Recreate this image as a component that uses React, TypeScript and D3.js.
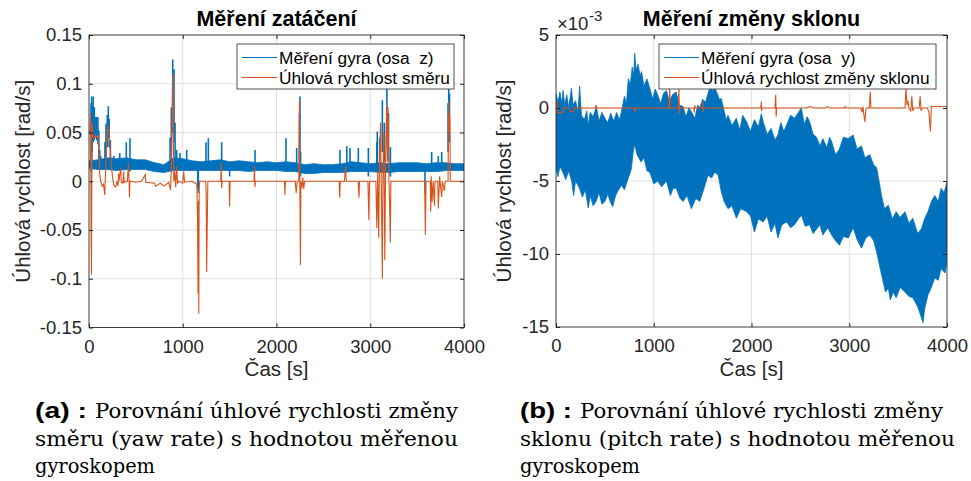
import React, { useEffect, useRef } from "react";
import * as d3 from "d3";

const W = 971;
const H = 481;
const BLUE = "#0072BD";
const ORANGE = "#D95319";
const INK = "#262626";
const FONT = '"Liberation Sans", Arial, Helvetica, sans-serif';
const SERIF = '"DejaVu Serif", "Liberation Serif", serif';

// shared x axis (time in s)
const timeDomain = [0, 4000];
const timeTicks = [0, 1000, 2000, 3000, 4000];

// ---- panel (a): yaw rate, rad/s ----
const yawTicks = [-0.15, -0.1, -0.05, 0, 0.05, 0.1, 0.15];
const yawTickLabels = ["-0.15", "-0.1", "-0.05", "0", "0.05", "0.1", "0.15"];

// gyro z: noise band (time, low, high)
const yawBandT = [0, 100, 200, 300, 400, 500, 600, 700, 800, 900, 1000, 1100, 1200, 1300, 1400, 1500, 1600, 1700, 1800, 1900, 2000, 2100, 2200, 2300, 2400, 2500, 2600, 2700, 2800, 2900, 3000, 3100, 3200, 3300, 3400, 3500, 3600, 3700, 3800, 3900, 4000];
const yawBandLo = [0.013, 0.012, 0.012, 0.011, 0.012, 0.012, 0.012, 0.010, 0.009, 0.011, 0.011, 0.011, 0.011, 0.011, 0.011, 0.011, 0.011, 0.010, 0.011, 0.011, 0.011, 0.010, 0.010, 0.008, 0.008, 0.009, 0.009, 0.009, 0.010, 0.010, 0.010, 0.009, 0.009, 0.010, 0.010, 0.010, 0.010, 0.010, 0.011, 0.011, 0.011];
const yawBandHi = [0.021, 0.022, 0.024, 0.023, 0.024, 0.022, 0.022, 0.019, 0.017, 0.024, 0.023, 0.021, 0.020, 0.021, 0.022, 0.020, 0.021, 0.020, 0.019, 0.020, 0.019, 0.020, 0.019, 0.017, 0.018, 0.017, 0.017, 0.018, 0.020, 0.019, 0.018, 0.019, 0.018, 0.019, 0.019, 0.019, 0.018, 0.019, 0.019, 0.018, 0.018];

// gyro z: short excursions (time, low, high)
const yawGyroSpikes: [number, number, number][] = [
  [22, 0.010, 0.080], [28, 0.012, 0.087], [35, 0.030, 0.078], [45, 0.040, 0.087],
  [57, 0.042, 0.076], [68, 0.045, 0.066], [82, 0.042, 0.066], [95, 0.038, 0.066],
  [105, 0.022, 0.052], [115, 0.014, 0.032], [125, 0.012, 0.026], [170, 0.015, 0.040],
  [181, 0.025, 0.059], [195, 0.035, 0.068], [206, 0.045, 0.077], [215, 0.035, 0.064],
  [228, 0.020, 0.042], [264, 0.012, 0.026], [328, 0.012, 0.029], [398, 0.012, 0.040],
  [437, 0.010, 0.044], [865, 0.015, 0.045], [878, 0.030, 0.076], [893, 0.050, 0.125],
  [907, 0.040, 0.115], [918, 0.020, 0.060], [935, 0.014, 0.032], [971, 0.012, 0.029],
  [1042, 0.012, 0.032], [1160, -0.007, 0.016], [1166, -0.012, 0.019], [1248, 0.012, 0.040],
  [1273, 0.012, 0.044], [1415, 0.012, 0.040], [1500, 0.005, 0.018], [1771, 0.012, 0.032],
  [2101, 0.012, 0.044], [2215, 0.010, 0.034], [2245, 0.020, 0.070], [2250, 0.030, 0.087],
  [2257, 0.005, 0.030], [2677, 0.010, 0.032], [2750, 0.012, 0.036], [2784, 0.012, 0.034],
  [2873, 0.010, 0.034], [2980, 0.005, 0.034], [3070, 0.010, 0.040], [3075, 0.015, 0.051],
  [3100, 0.010, 0.045], [3129, 0.030, 0.083], [3150, 0.020, 0.060], [3178, 0.040, 0.096],
  [3195, 0.020, 0.070], [3215, 0.005, 0.035], [3584, -0.012, 0.015], [3655, 0.010, 0.030],
  [3726, 0.010, 0.026], [3762, 0.010, 0.030], [3830, 0.030, 0.080], [3837, 0.050, 0.098],
  [3845, 0.040, 0.090],
];

// estimated yaw rate (time, value)
const yawRate: [number, number][] = [
  [0, 0.052], [10, 0.048], [18, 0.07], [22, -0.05], [26, -0.096], [30, 0.0], [34, 0.06],
  [40, 0.045], [50, 0.047], [60, 0.045], [75, 0.047], [90, 0.045], [100, 0.047], [108, 0.03],
  [115, 0.006], [125, 0.0], [140, -0.005], [155, -0.003], [168, -0.014], [175, 0.005],
  [185, 0.035], [195, 0.05], [205, 0.058], [212, 0.048], [222, 0.04], [235, 0.02], [250, 0.005],
  [265, -0.004], [284, -0.006], [300, 0.0], [310, -0.005], [315, 0.008], [320, 0.0],
  [338, 0.014], [345, -0.001], [362, -0.002], [370, 0.01], [375, -0.001], [410, 0.0],
  [420, 0.019], [428, -0.002], [432, -0.017], [436, 0.0], [500, -0.001], [560, 0.0],
  [600, 0.007], [605, -0.001], [700, -0.002], [712, -0.005], [760, -0.002], [800, -0.005],
  [850, -0.001], [870, -0.009], [880, 0.02], [888, 0.08], [893, 0.11], [898, 0.06], [905, 0.0],
  [915, 0.01], [925, -0.006], [935, 0.015], [945, -0.002], [960, 0.0], [1000, -0.002],
  [1010, 0.01], [1020, -0.001], [1100, 0.0], [1150, -0.003], [1158, -0.04], [1163, -0.115],
  [1167, -0.02], [1171, -0.136], [1175, -0.01], [1180, 0.0], [1245, 0.0], [1250, -0.01],
  [1255, -0.093], [1262, -0.04], [1268, 0.0], [1405, 0.0], [1410, 0.019], [1415, -0.007],
  [1420, 0.0], [1495, 0.0], [1500, -0.026], [1505, 0.0], [1760, 0.0], [1765, 0.016],
  [1770, -0.006], [1775, 0.0], [2085, 0.0], [2090, -0.014], [2095, 0.0], [2200, 0.0],
  [2210, -0.012], [2220, 0.0], [2238, 0.0], [2245, 0.083], [2250, -0.02], [2255, -0.086],
  [2260, 0.0], [2270, -0.007], [2280, 0.004], [2290, -0.008], [2300, 0.0], [2668, 0.0],
  [2674, -0.017], [2680, 0.0], [2725, 0.0], [2735, 0.015], [2745, 0.0], [2870, 0.0],
  [2880, -0.017], [2885, 0.0], [2975, 0.0], [2985, -0.04], [2992, 0.0], [3060, 0.0],
  [3070, -0.048], [3080, 0.01], [3090, -0.058], [3100, 0.03], [3110, 0.06], [3120, -0.02],
  [3129, -0.1], [3135, 0.0], [3145, 0.05], [3155, -0.081], [3165, 0.03], [3175, 0.078],
  [3182, 0.02], [3190, 0.076], [3200, 0.0], [3208, -0.03], [3214, -0.063], [3220, 0.0],
  [3580, 0.0], [3588, -0.055], [3595, 0.0], [3640, 0.0], [3645, -0.031], [3650, 0.005],
  [3660, -0.021], [3670, 0.0], [3685, -0.025], [3690, 0.0], [3720, 0.0], [3726, -0.028],
  [3740, 0.005], [3762, -0.016], [3770, 0.0], [3790, -0.01], [3800, 0.0], [3830, 0.0],
  [3835, 0.082], [3840, 0.05], [3845, 0.07], [3850, 0.06], [3854, 0.0], [4000, 0.0],
];

// ---- panel (b): pitch rate, 1e-3 rad/s ----
const pitchTicks = [-15, -10, -5, 0, 5];
const pitchTickLabels = ["-15", "-10", "-5", "0", "5"];

// gyro y: upper envelope of the noise (time, value)
const pitchUpper: [number, number][] = [
  [0, 1.0], [20, 0.4], [40, 1.1], [60, 0.3], [72, 1.2], [90, 0.2], [110, 0.9], [130, 0.0],
  [157, 1.35], [175, 0.2], [200, 0.5], [225, -0.3], [242, 1.5], [260, -0.5], [290, -0.8],
  [315, -0.2], [330, -1.2], [350, -0.3], [380, -0.6], [413, 0.1], [440, -0.9], [470, -0.3],
  [500, -0.7], [530, -1.0], [560, -0.35], [590, -0.9], [620, -0.3], [650, -0.8], [670, -0.25],
  [700, 0.8], [720, 0.3], [740, 2.0], [760, 1.6], [780, 2.8], [795, 2.2], [805, 3.75],
  [820, 2.6], [840, 3.0], [860, 2.2], [875, 2.5], [900, 1.5], [930, 2.0], [960, 1.35],
  [990, 0.6], [1015, 1.3], [1040, 0.9], [1070, 0.3], [1100, 1.0], [1130, 1.2], [1160, 0.4],
  [1190, 0.9], [1230, 1.1], [1260, 0.2], [1300, 0.1], [1330, -0.6], [1360, 0.0], [1385, -0.25],
  [1420, -0.7], [1450, 0.2], [1470, 0.0], [1500, 0.6], [1530, 0.4], [1555, 1.0], [1580, 1.5],
  [1600, 1.2], [1625, 1.35], [1650, 1.0], [1670, 0.6], [1690, 0.65], [1720, -0.2], [1740, -0.8],
  [1760, -0.5], [1800, -1.2], [1845, -0.7], [1880, -1.5], [1910, -0.5], [1950, -0.95],
  [1990, -1.6], [2030, -0.8], [2070, -1.3], [2100, -0.4], [2120, -0.95], [2160, -1.8],
  [2200, -1.4], [2240, -2.2], [2270, -1.85], [2300, -1.0], [2330, -1.6], [2360, -1.15],
  [2400, -0.5], [2440, -0.7], [2480, -0.3], [2510, 0.0], [2540, -1.1], [2570, -0.6],
  [2595, -0.95], [2630, -1.8], [2665, -2.0], [2700, -2.6], [2730, -2.1], [2770, -2.7],
  [2800, -2.0], [2820, -2.3], [2860, -3.2], [2900, -2.8], [2940, -2.0], [2990, -2.1],
  [3040, -1.85], [3080, -2.8], [3125, -2.6], [3160, -3.4], [3210, -3.2], [3250, -3.9],
  [3280, -4.1], [3310, -5.2], [3330, -6.0], [3360, -6.9], [3400, -6.65], [3440, -7.6],
  [3480, -7.1], [3520, -7.5], [3570, -7.1], [3610, -7.9], [3650, -7.55], [3700, -8.6],
  [3740, -8.25], [3770, -7.6], [3805, -7.1], [3840, -6.4], [3875, -6.0], [3910, -6.4],
  [3940, -5.5], [3970, -5.8], [4000, -5.05],
];

// gyro y: lower envelope of the noise (time, value)
const pitchLower: [number, number][] = [
  [0, -4.1], [20, -4.7], [40, -4.0], [70, -4.4], [100, -4.9], [130, -4.3], [160, -5.0],
  [180, -6.0], [200, -5.0], [240, -5.5], [270, -6.1], [300, -5.6], [330, -6.85], [350, -6.0],
  [380, -6.7], [410, -6.4], [440, -5.8], [470, -6.6], [500, -6.4], [530, -5.9], [560, -6.5],
  [580, -6.75], [610, -6.0], [640, -5.6], [670, -5.3], [700, -5.6], [740, -4.8], [770, -4.2],
  [790, -3.0], [805, -2.5], [830, -3.2], [870, -3.7], [900, -3.4], [930, -4.3], [960, -4.4],
  [1000, -5.2], [1040, -5.0], [1080, -5.4], [1130, -5.0], [1170, -6.0], [1200, -5.5],
  [1230, -5.5], [1270, -6.2], [1300, -6.4], [1340, -6.0], [1385, -6.9], [1430, -6.2],
  [1470, -6.4], [1510, -5.6], [1555, -4.6], [1590, -4.8], [1625, -4.4], [1660, -4.6],
  [1690, -5.7], [1720, -6.4], [1760, -6.9], [1800, -6.7], [1845, -7.55], [1890, -6.9],
  [1950, -7.1], [1990, -7.4], [2030, -8.5], [2070, -7.6], [2120, -7.8], [2160, -7.4],
  [2200, -8.5], [2240, -7.9], [2270, -8.9], [2310, -8.0], [2360, -7.8], [2400, -8.2],
  [2440, -8.0], [2480, -7.6], [2510, -7.35], [2550, -8.1], [2595, -8.0], [2630, -8.6],
  [2665, -8.3], [2700, -8.0], [2730, -8.7], [2780, -8.2], [2820, -8.7], [2860, -9.1],
  [2900, -9.4], [2940, -8.8], [2990, -8.9], [3040, -8.2], [3080, -9.0], [3125, -9.6],
  [3170, -8.9], [3210, -8.7], [3250, -9.1], [3280, -9.85], [3310, -10.8], [3330, -11.4],
  [3370, -12.6], [3400, -12.35], [3420, -13.15], [3450, -12.6], [3480, -13.0], [3520, -12.3],
  [3570, -12.6], [3610, -12.9], [3650, -13.0], [3700, -13.6], [3740, -14.4], [3755, -14.7],
  [3770, -13.8], [3805, -12.8], [3840, -12.3], [3875, -11.65], [3910, -11.8], [3940, -11.0],
  [3980, -11.3], [4000, -10.5],
];

const pitchRate: [number, number][] = [
  [0, 0.0], [10, 0.5], [15, -0.3], [25, -0.3], [70, -0.3], [80, 0.0], [130, 0.0],
  [140, -0.15], [170, -0.3], [185, 0.0], [400, 0.0], [410, 0.2], [415, 0.0], [800, 0.0],
  [810, -0.2], [820, 0.0], [1155, 0.0], [1163, 1.35], [1168, 0.0], [1250, 0.0], [1258, 1.35],
  [1262, -0.4], [1268, 0.0], [1410, 0.0], [1415, -0.3], [1420, 0.2], [1425, 0.0], [1500, 0.0],
  [1504, 0.45], [1508, -0.25], [1512, 0.0], [2095, 0.0], [2100, 0.45], [2104, -0.2],
  [2108, 0.0], [2240, 0.0], [2248, 0.9], [2252, -0.6], [2258, 0.0], [2560, 0.0], [2600, 0.1],
  [2640, 0.0], [2750, 0.0], [2780, 0.1], [2800, 0.0], [2950, 0.0], [2960, 0.1], [2970, 0.0],
  [3120, 0.0], [3130, -0.3], [3140, 0.1], [3150, -0.5], [3160, -0.95], [3170, -0.1],
  [3180, 0.0], [3205, 0.0], [3215, 1.1], [3222, 0.0], [3570, 0.0], [3580, 1.35], [3590, 0.2],
  [3600, 0.5], [3610, 0.0], [3630, -0.2], [3640, 0.8], [3650, -0.2], [3660, 0.0], [3715, 0.0],
  [3725, 0.8], [3735, -0.2], [3745, 0.0], [3800, 0.0], [3815, -0.3], [3830, -1.6],
  [3840, 0.1], [4000, 0.1],
];

type Panel = {
  id: string;
  left: number;
  right: number;
  top: number;
  bottom: number;
  yDomain: number[];
  yTicks: number[];
  yTickLabels: string[];
  title: string;
  yLabelX: number;
  upper: [number, number][];
  lower: [number, number][];
  spikes: [number, number, number][];
  rate: [number, number][];
  legend: { x: number; y: number; w: number; h: number; labels: string[] };
};

function drawPanel(svg: any, p: Panel) {
  const x = d3.scaleLinear().domain(timeDomain).range([p.left, p.right]);
  const y = d3.scaleLinear().domain(p.yDomain).range([p.bottom, p.top]);
  const g = svg.append("g");

  // grid
  g.append("g")
    .selectAll("line")
    .data(timeTicks.slice(1, -1))
    .join("line")
    .attr("x1", (d: number) => x(d))
    .attr("x2", (d: number) => x(d))
    .attr("y1", p.top)
    .attr("y2", p.bottom)
    .attr("stroke", "#dfdfdf");
  g.append("g")
    .selectAll("line")
    .data(p.yTicks.slice(1, -1))
    .join("line")
    .attr("x1", p.left)
    .attr("x2", p.right)
    .attr("y1", (d: number) => y(d))
    .attr("y2", (d: number) => y(d))
    .attr("stroke", "#dfdfdf");

  svg
    .append("defs")
    .append("clipPath")
    .attr("id", "clip-" + p.id)
    .append("rect")
    .attr("x", p.left)
    .attr("y", p.top)
    .attr("width", p.right - p.left)
    .attr("height", p.bottom - p.top);

  const plot = g.append("g").attr("clip-path", `url(#clip-${p.id})`);

  // gyro noise band: upper envelope forward, lower envelope back
  const outline = d3
    .line<[number, number]>()
    .x((d) => x(d[0]))
    .y((d) => y(d[1]))
    .curve(d3.curveLinearClosed);
  plot
    .append("path")
    .datum([...p.upper, ...p.lower.slice().reverse()])
    .attr("d", outline)
    .attr("fill", BLUE)
    .attr("stroke", BLUE)
    .attr("stroke-width", 0.8)
    .attr("stroke-linejoin", "miter");

  plot
    .append("g")
    .selectAll("line")
    .data(p.spikes)
    .join("line")
    .attr("x1", (d: number[]) => x(d[0]))
    .attr("x2", (d: number[]) => x(d[0]))
    .attr("y1", (d: number[]) => y(d[1]))
    .attr("y2", (d: number[]) => y(d[2]))
    .attr("stroke", BLUE)
    .attr("stroke-width", 1.6);

  const line = d3
    .line<[number, number]>()
    .x((d) => x(d[0]))
    .y((d) => y(d[1]));
  plot
    .append("path")
    .datum(p.rate)
    .attr("d", line)
    .attr("fill", "none")
    .attr("stroke", ORANGE)
    .attr("stroke-width", 1.1);

  // axes, ticks pointing inward
  const fmtY = (d: number) => p.yTickLabels[p.yTicks.indexOf(d)];
  const styleAxis = (a: any) => {
    a.select(".domain").remove();
    a.attr("font-family", FONT).attr("font-size", 18.5).style("color", INK);
  };
  g.append("g")
    .attr("transform", `translate(0,${p.bottom})`)
    .call(d3.axisBottom(x).tickValues(timeTicks).tickFormat(d3.format("d")).tickSize(-4).tickSizeOuter(0).tickPadding(12))
    .call(styleAxis);
  g.append("g")
    .attr("transform", `translate(${p.left},0)`)
    .call(d3.axisLeft(y).tickValues(p.yTicks).tickFormat(fmtY as any).tickSize(-4).tickSizeOuter(0).tickPadding(7))
    .call(styleAxis);
  g.append("g")
    .attr("transform", `translate(0,${p.top})`)
    .call(d3.axisTop(x).tickValues(timeTicks).tickFormat(() => "").tickSize(-4).tickSizeOuter(0))
    .call(styleAxis);
  g.append("g")
    .attr("transform", `translate(${p.right},0)`)
    .call(d3.axisRight(y).tickValues(p.yTicks).tickFormat(() => "").tickSize(-4).tickSizeOuter(0))
    .call(styleAxis);

  g.append("rect")
    .attr("x", p.left)
    .attr("y", p.top)
    .attr("width", p.right - p.left)
    .attr("height", p.bottom - p.top)
    .attr("fill", "none")
    .attr("stroke", INK)
    .attr("stroke-width", 0.9);

  const cx = (p.left + p.right) / 2;
  g.append("text")
    .attr("x", cx)
    .attr("y", 26)
    .attr("text-anchor", "middle")
    .attr("font-family", FONT)
    .attr("font-weight", "bold")
    .attr("font-size", 21.5)
    .attr("fill", "#000")
    .text(p.title);

  g.append("text")
    .attr("x", cx)
    .attr("y", 376)
    .attr("text-anchor", "middle")
    .attr("font-family", FONT)
    .attr("font-size", 20.5)
    .attr("fill", INK)
    .text("Čas [s]");

  const cy = (p.top + p.bottom) / 2;
  g.append("text")
    .attr("transform", `translate(${p.yLabelX},${cy}) rotate(-90)`)
    .attr("text-anchor", "middle")
    .attr("font-family", FONT)
    .attr("font-size", 20.5)
    .attr("fill", INK)
    .text("Úhlová rychlost [rad/s]");

  // legend
  const L = p.legend;
  const lg = g.append("g");
  lg.append("rect")
    .attr("x", L.x)
    .attr("y", L.y)
    .attr("width", L.w)
    .attr("height", L.h)
    .attr("fill", "#fff")
    .attr("stroke", INK)
    .attr("stroke-width", 0.8);
  [BLUE, ORANGE].forEach((c, i) => {
    const ry = L.y + 13.5 + i * 20;
    lg.append("line")
      .attr("x1", L.x + 5)
      .attr("x2", L.x + 40)
      .attr("y1", ry)
      .attr("y2", ry)
      .attr("stroke", c)
      .attr("stroke-width", 1.2);
    lg.append("text")
      .attr("x", L.x + 42)
      .attr("y", ry + 6)
      .attr("font-family", FONT)
      .attr("font-size", 17.3)
      .attr("fill", "#000")
      .style("white-space", "pre")
      .text(L.labels[i]);
  });
}

function drawCaption(svg: any, x0: number, tag: string, lines: string[], widths: number[]) {
  const g = svg.append("g");
  const base = [418, 446, 473];
  g.append("text")
    .attr("x", x0)
    .attr("y", base[0])
    .attr("font-family", FONT)
    .attr("font-weight", "bold")
    .attr("font-size", 22)
    .attr("fill", "#000")
    .attr("textLength", 52)
    .attr("lengthAdjust", "spacingAndGlyphs")
    .text(tag);
  lines.forEach((s, i) => {
    const lx = i === 0 ? x0 + 60 : x0;
    g.append("text")
      .attr("x", lx)
      .attr("y", base[i])
      .attr("font-family", SERIF)
      .attr("font-size", 19.5)
      .attr("fill", "#000")
      .attr("textLength", widths[i])
      .attr("lengthAdjust", "spacingAndGlyphs")
      .text(s);
  });
}

export default function App() {
  const ref = useRef<SVGSVGElement>(null);

  useEffect(() => {
    const svg = d3.select(ref.current);
    svg.selectAll("*").remove();
    svg.append("rect").attr("width", W).attr("height", H).attr("fill", "#fff");

    drawPanel(svg, {
      id: "yaw",
      left: 89,
      right: 464,
      top: 35,
      bottom: 327.5,
      yDomain: [-0.15, 0.15],
      yTicks: yawTicks,
      yTickLabels: yawTickLabels,
      title: "Měření zatáčení",
      yLabelX: 30,
      upper: yawBandT.map((t, i) => [t, yawBandHi[i]] as [number, number]),
      lower: yawBandT.map((t, i) => [t, yawBandLo[i]] as [number, number]),
      spikes: yawGyroSpikes,
      rate: yawRate,
      legend: { x: 237, y: 44, w: 217, h: 45, labels: ["Měření gyra (osa  z)", "Úhlová rychlost směru"] },
    });

    drawPanel(svg, {
      id: "pitch",
      left: 556,
      right: 947,
      top: 35,
      bottom: 327,
      yDomain: [-15, 5],
      yTicks: pitchTicks,
      yTickLabels: pitchTickLabels,
      title: "Měření změny sklonu",
      yLabelX: 511,
      upper: pitchUpper,
      lower: pitchLower,
      spikes: [],
      rate: pitchRate,
      legend: { x: 659, y: 44, w: 277, h: 45, labels: ["Měření gyra (osa  y)", "Úhlová rychlost změny sklonu"] },
    });

    // exponent of the right y axis
    svg.append("text")
      .attr("x", 557)
      .attr("y", 30)
      .attr("font-family", FONT)
      .attr("font-size", 18.5)
      .attr("fill", INK)
      .text("×10");
    svg.append("text")
      .attr("x", 589)
      .attr("y", 21)
      .attr("font-family", FONT)
      .attr("font-size", 15)
      .attr("fill", INK)
      .text("-3");

    drawCaption(svg, 35, "(a) :", ["Porovnání úhlové rychlosti změny", "směru (yaw rate) s hodnotou měřenou", "gyroskopem"], [363, 423, 120]);
    drawCaption(svg, 520, "(b) :", ["Porovnání úhlové rychlosti změny", "sklonu (pitch rate) s hodnotou měřenou", "gyroskopem"], [363, 435, 120]);
  }, []);

  return (
    <svg
      ref={ref}
      width={W}
      height={H}
      style={{ position: "absolute", left: 0, top: 0, display: "block" }}
    />
  );
}
